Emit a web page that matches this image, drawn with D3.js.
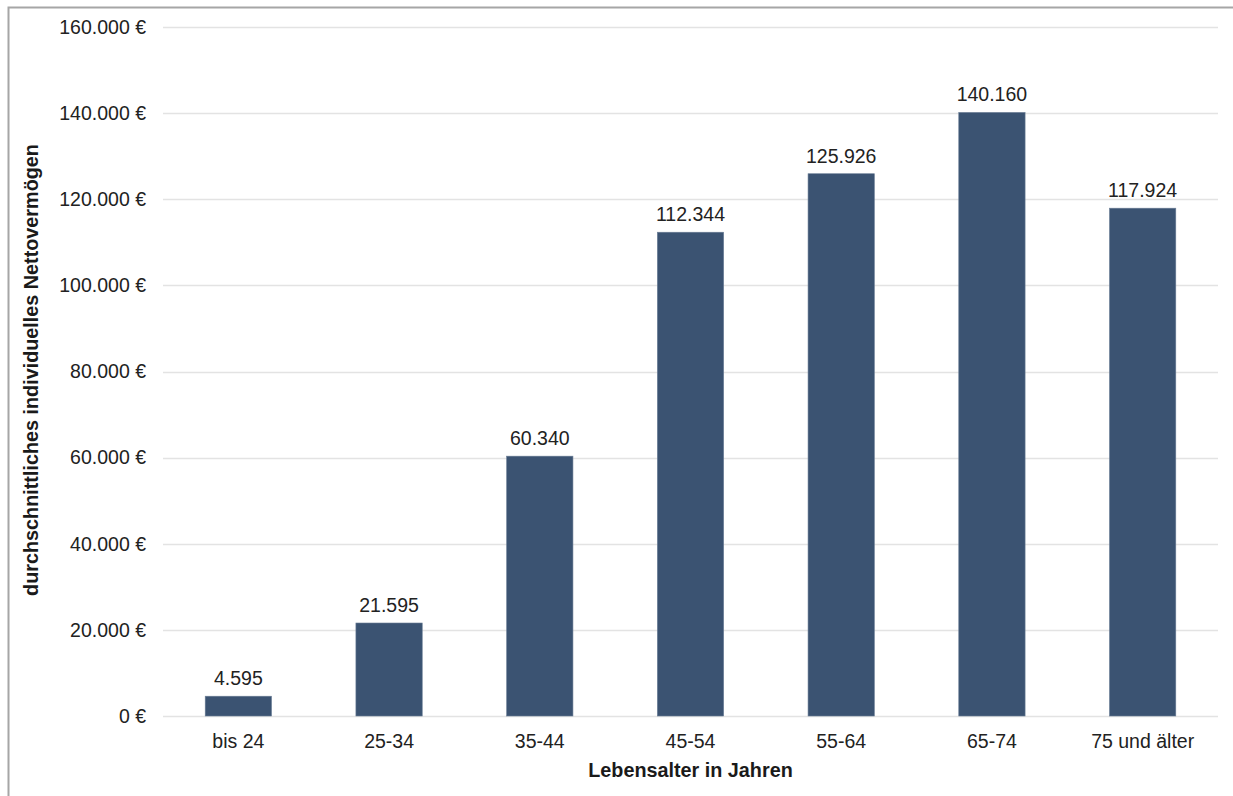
<!DOCTYPE html>
<html><head><meta charset="utf-8">
<script src="https://cdn.jsdelivr.net/npm/d3@7"></script>
<style>body{margin:0;background:#fff;} svg{display:block;font-family:"Liberation Sans",Arial,sans-serif;}</style>
</head><body>
<svg id="c" width="1233" height="796"></svg>
<script>
const categories = ["bis 24","25-34","35-44","45-54","55-64","65-74","75 und älter"];
const values = [4595,21595,60340,112344,125926,140160,117924];
const yTicks = [0,20000,40000,60000,80000,100000,120000,140000,160000];
const yTitle = "durchschnittliches individuelles Nettovermögen";
const xTitle = "Lebensalter in Jahren";

const svg = d3.select("#c");
// frame
svg.append("path").attr("d","M8.5,796 L8.5,7.5 L1233,7.5").attr("fill","none").attr("stroke","#a6a6a6").attr("stroke-width",2);

const m = {l:163, r:1218, t:27, b:716};
const x = d3.scaleBand().domain(categories).range([m.l,m.r]).paddingInner(0.56).paddingOuter(0.28);
const y = d3.scaleLinear().domain([0,160000]).range([m.b,m.t]);
const fmt = d3.formatLocale({decimal:",",thousands:".",grouping:[3],currency:["","\u00a0€"]});
const nf = fmt.format(",");
const fs = 19.5;

svg.append("g").selectAll("line").data(yTicks).join("line")
  .attr("x1",m.l).attr("x2",m.r).attr("y1",d=>Math.round(y(d))+0.5).attr("y2",d=>Math.round(y(d))+0.5)
  .attr("stroke","#e3e3e3").attr("stroke-width",1.3);

svg.append("g").selectAll("text").data(yTicks).join("text")
  .attr("x",146).attr("y",d=>y(d)).attr("dy","0.35em").attr("text-anchor","end")
  .attr("font-size",fs).attr("fill","#222").text(d=>nf(d)+" €");

svg.append("g").selectAll("rect").data(values).join("rect")
  .attr("x",(d,i)=>x(categories[i])).attr("width",x.bandwidth())
  .attr("y",d=>y(d)).attr("height",d=>y(0)-y(d))
  .attr("fill","#3b5372").attr("stroke","#6a7d95").attr("stroke-width",0.6);

svg.append("g").selectAll("text").data(values).join("text")
  .attr("x",(d,i)=>x(categories[i])+x.bandwidth()/2).attr("y",d=>y(d)-11)
  .attr("text-anchor","middle").attr("font-size",fs).attr("fill","#222").text(d=>nf(d));

svg.append("g").selectAll("text").data(categories).join("text")
  .attr("x",d=>x(d)+x.bandwidth()/2).attr("y",748)
  .attr("text-anchor","middle").attr("font-size",fs).attr("fill","#222").text(d=>d);

svg.append("text").attr("x",(m.l+m.r)/2).attr("y",777).attr("text-anchor","middle")
  .attr("font-size",19.8).attr("font-weight","bold").attr("fill","#1a1a1a").text(xTitle);

svg.append("text").attr("transform",`translate(38,370) rotate(-90)`).attr("text-anchor","middle")
  .attr("font-size",19.8).attr("font-weight","bold").attr("fill","#1a1a1a").text(yTitle);
</script>
</body></html>
